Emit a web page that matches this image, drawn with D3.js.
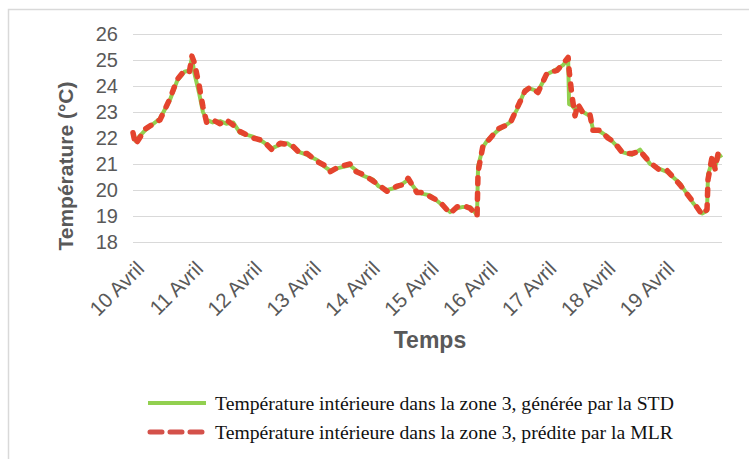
<!DOCTYPE html>
<html>
<head>
<meta charset="utf-8">
<script src="https://cdn.jsdelivr.net/npm/d3@7/dist/d3.min.js"></script>
<style>
body { margin:0; background:#fff; }
svg { display:block; }
</style>
</head>
<body>
<svg id="chart"></svg>
<script>
// temperature zone 3 chart

// x tick labels (one per day, every 24 h)
var dayLabels = ["10 Avril","11 Avril","12 Avril","13 Avril","14 Avril","15 Avril","16 Avril","17 Avril","18 Avril","19 Avril"];
var dayHours = [0,24,48,72,96,120,144,168,192,216];
var yTicks = [18,19,20,21,22,23,24,25,26];

// time in hours since 10 Avril 00h
var hours = [0,1,5,11,15,18,21,23,24,25,27,28.5,30,32.5,35.5,38,40.8,43.6,48.9,53,56.6,60,62.8,65,68.1,71,75,78,80.3,84,88.4,91,93.7,97.8,100,103.5,107.6,110,112.1,115.7,118,121,125,129.2,132,134.5,137.3,140.2,140.6,142.6,144.3,148.7,153.6,156.5,159.7,161.8,165,168.7,172.8,175.2,177.3,177.7,178.9,180.1,181.3,183.4,186.2,187.4,190.3,193.5,196,199.7,203.3,206.6,210.7,214.8,217.6,222.9,228.2,231.9,233.9,234.3,236,237.2,238.4,240];

// STD simulation
var stdTemp = [22.1,21.9,22.3,22.75,23.45,24.2,24.55,24.6,25.1,24.5,23.7,23.0,22.7,22.6,22.65,22.55,22.6,22.2,22.05,21.85,21.6,21.75,21.8,21.65,21.45,21.35,21.15,20.9,20.75,20.85,20.95,20.75,20.55,20.4,20.15,20.0,20.1,20.25,20.4,19.95,19.85,19.8,19.5,19.15,19.3,19.35,19.35,19.05,20.9,21.65,21.9,22.3,22.6,23.1,23.85,23.9,23.8,24.45,24.65,24.8,25.05,23.3,23.25,23.1,23.2,23.0,22.85,22.35,22.25,22.05,21.8,21.45,21.35,21.55,21.0,20.8,20.7,20.25,19.5,19.1,19.2,20.6,21.1,20.9,21.25,21.35];

// MLR prediction
var mlrTemp = [22.2,21.75,22.35,22.7,23.5,24.25,24.6,24.55,25.15,24.9,24.0,23.2,22.6,22.7,22.55,22.7,22.5,22.25,22.0,21.9,21.55,21.8,21.75,21.7,21.4,21.4,21.1,20.95,20.7,20.9,21.0,20.7,20.6,20.35,20.2,19.95,20.15,20.2,20.45,19.9,19.9,19.75,19.55,19.1,19.35,19.4,19.3,19.0,20.7,21.7,21.85,22.35,22.55,23.15,23.8,23.95,23.75,24.5,24.6,24.85,25.1,24.6,23.6,22.85,23.3,22.95,22.9,22.3,22.3,22.0,21.85,21.4,21.4,21.5,21.05,20.75,20.75,20.2,19.55,19.05,19.25,20.4,21.3,20.8,21.4,21.4];

var legendLabels = ["Température intérieure dans la zone 3, générée par la STD",
                    "Température intérieure dans la zone 3, prédite par la MLR"];

var W = 749, H = 459;
var margin = {top:34, right:27, bottom:217, left:133},
width = W - margin.left - margin.right,
height = H - margin.top - margin.bottom;

var svg = d3.select("#chart").attr("width", W).attr("height", H);

// outer chart frame (left + top only are visible)
svg.append("path")
.attr("d", "M8.5," + H + "V9.5H" + W)
.attr("fill", "none")
.attr("stroke", "#d9d9d9")
.attr("stroke-width", 1.5);

var g = svg.append("g")
.attr("transform", "translate(" + margin.left + "," + margin.top + ")");

var x = d3.scaleLinear().domain([0, 240]).range([0, width]);
var y = d3.scaleLinear().domain([18, 26]).range([height, 0]);

// y axis + grid
var yAx = g.append("g")
.call(d3.axisLeft(y).tickValues(yTicks).tickSize(-width).tickPadding(15).tickFormat(d3.format("d")));
yAx.select(".domain").remove();
yAx.selectAll("line").attr("stroke", "#d9d9d9");
yAx.selectAll("text")
.style("font-family", "Liberation Sans, Arial, sans-serif")
.style("font-size", "20px")
.attr("fill", "#595959");

// x axis (day labels)
var xAx = g.append("g")
.attr("transform", "translate(0," + height + ")")
.call(d3.axisBottom(x).tickValues(dayHours).tickSize(0).tickFormat(function(d, i){ return dayLabels[i]; }));
xAx.select(".domain").remove();
xAx.selectAll("text")
.attr("x", 0).attr("y", 0).attr("dy", 0)
.attr("transform", "translate(12,28) rotate(-45)")
.style("text-anchor", "end")
.style("font-family", "Liberation Sans, Arial, sans-serif")
.style("font-size", "20.5px")
.attr("fill", "#595959");

var line = d3.line()
.x(function(d){ return x(d[0]); })
.y(function(d){ return y(d[1]); });

var stdData = hours.map(function(h, i){ return [h, stdTemp[i]]; });
var mlrData = hours.map(function(h, i){ return [h, mlrTemp[i]]; });

g.append("path")
.datum(stdData)
.attr("d", line)
.attr("fill", "none")
.attr("stroke", "#92d050")
.attr("stroke-width", 4)
.attr("stroke-linejoin", "round");

g.append("path")
.datum(mlrData)
.attr("d", line)
.attr("fill", "none")
.attr("stroke", "#e4442e")
.attr("stroke-width", 5.5)
.attr("stroke-dasharray", "6,9.5")
.attr("stroke-linecap", "round")
.attr("stroke-linejoin", "round");

// axis titles
svg.append("text")
.attr("transform", "translate(73,166) rotate(-90)")
.attr("text-anchor", "middle")
.style("font-family", "Liberation Sans, Arial, sans-serif")
.style("font-size", "21px")
.style("font-weight", "bold")
.attr("fill", "#595959")
.text("Température (°C)");

svg.append("text")
.attr("x", 430).attr("y", 348)
.attr("text-anchor", "middle")
.style("font-family", "Liberation Sans, Arial, sans-serif")
.style("font-size", "23px")
.style("font-weight", "bold")
.attr("fill", "#595959")
.text("Temps");

// legend
var leg = svg.append("g");
var legY = [403, 432];
leg.append("line")
.attr("x1", 148).attr("x2", 206).attr("y1", legY[0]).attr("y2", legY[0])
.attr("stroke", "#92d050").attr("stroke-width", 4);
leg.append("line")
.attr("x1", 150).attr("x2", 204).attr("y1", legY[1]).attr("y2", legY[1])
.attr("stroke", "#d4514a").attr("stroke-width", 5)
.attr("stroke-dasharray", "12,8")
.attr("stroke-linecap", "round");
leg.selectAll("text")
.data(legendLabels)
.enter()
.append("text")
.attr("x", 215)
.attr("y", function(d, i){ return legY[i]; })
.attr("dy", "0.35em")
.style("font-family", "Liberation Serif, Times New Roman, serif")
.style("font-size", "19.7px")
.attr("fill", "#111")
.text(function(d){ return d; });
</script>
</body>
</html>
